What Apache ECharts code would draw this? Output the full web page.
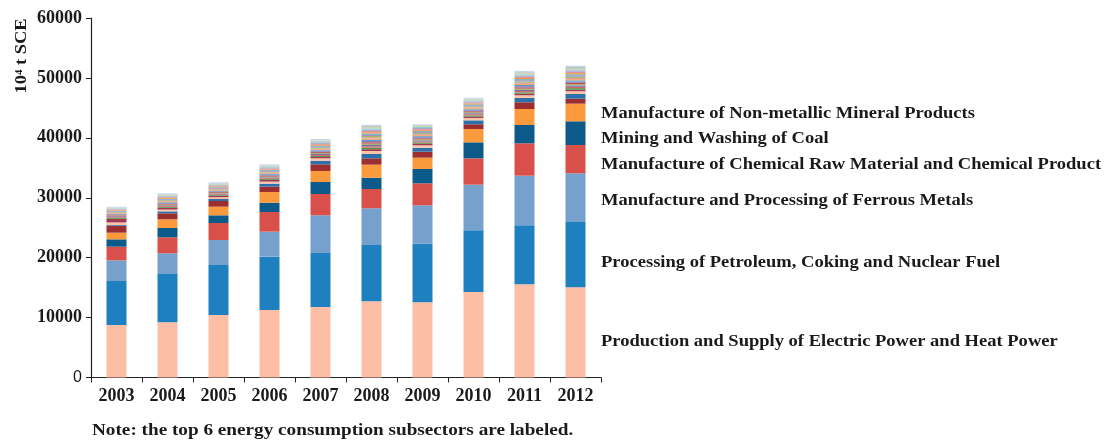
<!DOCTYPE html>
<html><head><meta charset="utf-8">
<script src="https://cdn.jsdelivr.net/npm/echarts@6/dist/echarts.min.js"></script>
<style>html,body{margin:0;padding:0;background:#fff}#c{width:1105px;height:443px}</style>
</head><body><div id="c"></div>
<script>
const years = ['2003','2004','2005','2006','2007','2008','2009','2010','2011','2012'];
const yTicks = [0,10000,20000,30000,40000,50000,60000];
// Named (top 6) subsectors, values in 10^4 t SCE
const electric  = [8760, 9210,10430,11270,11770,12720,12550,14270,15550,15050];
const petroleum = [7340, 8060, 8350, 8900, 9010, 9390, 9780,10300, 9850,10900];
const ferrous   = [3460, 3460, 4170, 4170, 6290, 6130, 6410, 7610, 8280, 8130];
const chemical  = [2270, 2670, 2840, 3280, 3560, 3220, 3670, 4400, 5410, 4720];
const coal      = [1230, 1550, 1280, 1560, 2000, 1890, 2390, 2670, 3050, 3960];
const nonmetal  = [1110, 1450, 1440, 1780, 1840, 2170, 1890, 2220, 2670, 2940];
// Other subsectors (unlabeled)
const other01 = [1110,1000, 950, 890,1110,1060,1000, 790,1120, 830];
const other02 = [ 150, 330, 330, 500, 600, 720, 660, 660, 720, 790];
const other03 = [ 450, 300, 300, 350, 400, 500, 400, 400, 450, 450];
const other04 = [ 600, 300, 260, 260, 230, 300, 260, 240, 280, 300];
const other05 = [ 200, 130, 120, 150, 160, 250, 190, 180, 210, 230];
const other06 = [ 160, 140, 130, 150, 170, 240, 190, 190, 220, 220];
const other07 = [ 110, 130, 120, 140, 160, 230, 180, 170, 210, 220];
const other08 = [ 100, 120, 110, 130, 150, 210, 170, 160, 190, 200];
const other09 = [ 110, 140, 130, 150, 170, 230, 190, 180, 220, 230];
const other10 = [ 100, 120, 110, 130, 150, 210, 170, 160, 200, 210];
const other11 = [ 100, 130, 120, 140, 160, 220, 180, 170, 200, 210];
const other12 = [  90, 110, 100, 120, 140, 200, 160, 150, 180, 190];
const other13 = [ 100, 130, 120, 140, 160, 220, 180, 170, 210, 220];
const other14 = [  90, 120, 110, 130, 150, 200, 160, 160, 190, 200];
const other15 = [ 100, 130, 120, 140, 160, 220, 180, 170, 200, 210];
const other16 = [  80, 110, 100, 120, 140, 190, 150, 150, 180, 190];
const other17 = [  90, 120, 110, 130, 150, 210, 170, 160, 190, 200];
const other18 = [ 100, 130, 120, 140, 160, 220, 180, 170, 210, 220];
const other19 = [ 100, 130, 120, 140, 160, 230, 180, 180, 210, 220];
const other20 = [  90, 120, 110, 130, 150, 210, 170, 160, 200, 210];
const other21 = [  80, 110, 100, 120, 140, 190, 150, 150, 180, 190];
const other22 = [  80, 110, 100, 120, 130, 180, 140, 140, 170, 180];
const other23 = [ 140, 180, 180, 200, 230, 220, 170, 170, 220, 240];

const labels = [
  'Manufacture of Non-metallic Mineral Products',
  'Mining and Washing of Coal',
  'Manufacture of Chemical Raw Material and Chemical Product',
  'Manufacture and Processing of Ferrous Metals',
  'Processing of Petroleum, Coking and Nuclear Fuel',
  'Production and Supply of Electric Power and Heat Power'
];

const seriesData = [
  ['Electric', electric, '#fdbea6'],
  ['Petroleum', petroleum, '#1f80c0'],
  ['Ferrous', ferrous, '#75a1cc'],
  ['Chemical', chemical, '#d9504b'],
  ['Coal', coal, '#0b5a8a'],
  ['Nonmetal', nonmetal, '#fa9a3c'],
  ['o01', other01, '#9c2e30'],
  ['o02', other02, '#2d6fa8'],
  ['o03', other03, '#fcc5a8'],
  ['o04', other04, '#a3384f'],
  ['o05', other05, '#4e9a46'],
  ['o06', other06, '#d06a6a'],
  ['o07', other07, '#7f6aa8'],
  ['o08', other08, '#96b36b'],
  ['o09', other09, '#c0504d'],
  ['o10', other10, '#8a7fb8'],
  ['o11', other11, '#5b9bd5'],
  ['o12', other12, '#f2a05a'],
  ['o13', other13, '#e39a9a'],
  ['o14', other14, '#9bbb59'],
  ['o15', other15, '#a58fc4'],
  ['o16', other16, '#4bacc6'],
  ['o17', other17, '#f79646'],
  ['o18', other18, '#d99694'],
  ['o19', other19, '#b3a2c7'],
  ['o20', other20, '#93cddd'],
  ['o21', other21, '#c3d69b'],
  ['o22', other22, '#bfbfbf'],
  ['o23', other23, '#c6d9f1']
];

const FONT = '"Liberation Serif","Times New Roman",serif';
const chart = echarts.init(document.getElementById('c'), null, {renderer:'canvas'});
const labelYs = [114, 139, 165, 201, 263, 342];
chart.setOption({
  animation: false,
  grid: {left: 91, right: 504, top: 18, bottom: 65.5, containLabel: false},
  xAxis: {
    type: 'category', data: years,
    axisLine: {lineStyle: {color: '#222', width: 1.2}},
    axisTick: {show: true, length: 5, lineStyle: {color: '#222'}},
    axisLabel: {margin: 10, color: '#1a1a1a', fontFamily: FONT, fontWeight: 'bold', fontSize: 18}
  },
  yAxis: {
    type: 'value', min: yTicks[0], max: yTicks[yTicks.length-1], interval: 10000,
    splitLine: {show: false},
    axisLine: {show: true, lineStyle: {color: '#222', width: 1.2}},
    axisTick: {show: true, length: 5, lineStyle: {color: '#222'}},
    axisLabel: {margin: 9, color: '#1a1a1a', fontFamily: FONT, fontWeight: 'bold', fontSize: 18,
      formatter: v => v === 0 ? '{z|0}' : String(v),
      rich: {z: {fontFamily: '"Liberation Sans",Arial,sans-serif', fontWeight: 'normal', fontSize: 16, color: '#1a1a1a'}}}
  },
  series: seriesData.map(([name, data, color]) => ({
    name, type: 'bar', stack: 'total', data, barWidth: 20,
    itemStyle: {color},
    emphasis: {disabled: true}
  })),
  graphic: [
    {type: 'text', x: 22, y: 56, rotation: Math.PI/2, scaleX: 1.15, style: {
      text: '10\u2074 t SCE', font: 'bold 16px ' + FONT, fill: '#1a1a1a', align: 'center', verticalAlign: 'middle'}},
    {type: 'text', x: 92, y: 431, scaleX: 1.2, style: {
      text: 'Note: the top 6 energy consumption subsectors are labeled.', font: 'bold 16px ' + FONT,
      fill: '#1a1a1a', align: 'left', verticalAlign: 'middle'}}
  ].concat(labels.map((t, i) => ({
    type: 'text', x: 601, y: labelYs[i], scaleX: 1.09, style: {
      text: t, font: 'bold 17px ' + FONT, fill: '#1a1a1a', align: 'left', verticalAlign: 'middle'}
  })))
});
</script></body></html>
